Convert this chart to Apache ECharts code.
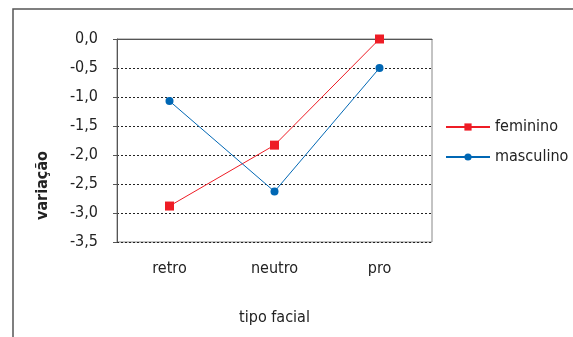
<!DOCTYPE html>
<html>
<head>
<meta charset="utf-8">
<script src="https://cdn.jsdelivr.net/npm/echarts@6/dist/echarts.min.js"></script>
<style>
  html, body { margin: 0; padding: 0; background: #fff; }
  #chart { width: 573px; height: 337px; }
</style>
</head>
<body>
<div id="chart"></div>
<script>
// valores
const categorias = ["retro", "neutro", "pro"];
const feminino = [-2.88, -1.83, 0.0];
const masculino = [-1.07, -2.63, -0.5];

const FONTE = "'DejaVu Sans Condensed', 'Liberation Sans Narrow', sans-serif";

let myChart = echarts.init(document.getElementById("chart"));

let option = {
  animation: false,
  textStyle: { fontFamily: FONTE, color: "#222" },
  graphic: [
    {
      // moldura externa (só topo e esquerda visíveis)
      type: "rect",
      shape: { x: 13, y: 9, width: 700, height: 400 },
      style: { fill: "none", stroke: "#555", lineWidth: 1.5 },
      silent: true
    }
  ],
  grid: {
    left: 117,
    right: 141,
    top: 39,
    bottom: 95,
    show: true,
    borderColor: "#888",
    borderWidth: 1
  },
  legend: {
    orient: "vertical",
    left: 440,
    top: 114,
    itemWidth: 44,
    itemHeight: 9,
    itemGap: 14,
    textStyle: { fontFamily: FONTE, fontSize: 16, color: "#222" },
    data: ["feminino", "masculino"]
  },
  xAxis: {
    type: "category",
    data: categorias,
    boundaryGap: true,
    name: "tipo facial",
    nameLocation: "middle",
    nameGap: 68,
    nameTextStyle: { fontFamily: FONTE, fontSize: 16, color: "#222" },
    axisLine: { lineStyle: { color: "#555", width: 1 } },
    axisTick: { show: false },
    axisLabel: { fontFamily: FONTE, fontSize: 16, color: "#222", margin: 19 }
  },
  yAxis: {
    type: "value",
    min: -3.5,
    max: 0,
    interval: 0.5,
    name: "variação",
    nameLocation: "middle",
    nameGap: 66,
    nameTextStyle: {
      fontFamily: FONTE,
      fontSize: 16,
      fontWeight: "bold",
      color: "#222",
      padding: [0, 90, 0, 0]
    },
    axisLine: { show: true, lineStyle: { color: "#555", width: 1 } },
    axisTick: { show: true, length: 4, lineStyle: { color: "#555" } },
    axisLabel: {
      fontFamily: FONTE,
      fontSize: 16,
      color: "#222",
      margin: 19,
      formatter: function (v) {
        return v.toFixed(1).replace(".", ",");
      }
    },
    splitLine: {
      show: true,
      lineStyle: { color: "#222", width: 1, type: [2, 2] }
    }
  },
  series: [
    {
      name: "feminino",
      type: "line",
      data: feminino,
      symbol: "rect",
      symbolSize: 9,
      color: "#ee1c25",
      lineStyle: { width: 1, color: "#ee1c25" },
      itemStyle: { color: "#ee1c25" }
    },
    {
      name: "masculino",
      type: "line",
      data: masculino,
      symbol: "circle",
      symbolSize: 8,
      color: "#0067b4",
      lineStyle: { width: 1, color: "#0067b4" },
      itemStyle: { color: "#0067b4" }
    }
  ]
};

myChart.setOption(option);
</script>
</body>
</html>
